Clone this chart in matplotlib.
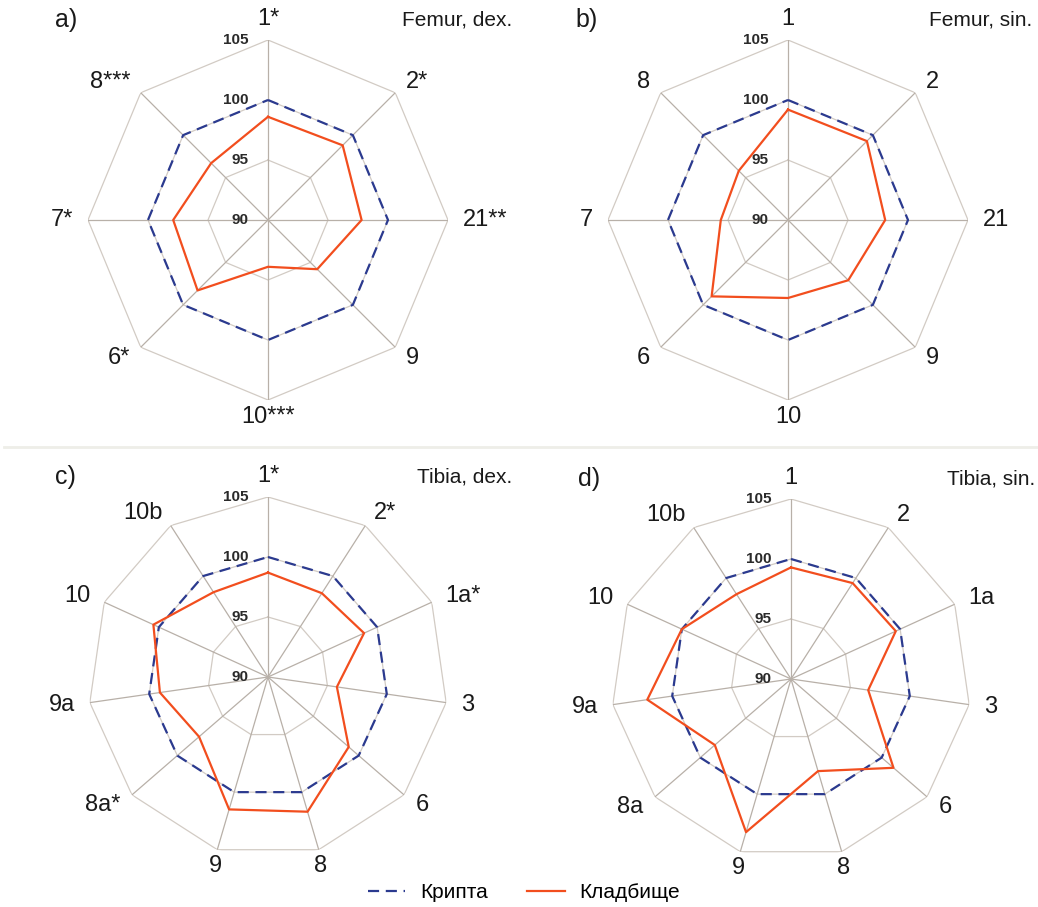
import numpy as np
import matplotlib
matplotlib.use('Agg')
import matplotlib.pyplot as plt
from matplotlib.lines import Line2D

plt.rcParams['font.family'] = ['Liberation Sans', 'DejaVu Sans']

# panel a) Femur, dex.
cats_a = ['1*', '2*', '21**', '9', '10***', '6*', '7*', '8***']
crypt_a = [100, 100, 100, 100, 100, 100, 100, 100]
cem_a = [98.6, 98.8, 97.8, 95.8, 93.9, 98.3, 97.9, 96.7]

# panel b) Femur, sin.
cats_b = ['1', '2', '21', '9', '10', '6', '7', '8']
crypt_b = [100, 100, 100, 100, 100, 100, 100, 100]
cem_b = [99.2, 99.3, 98.1, 97.1, 96.5, 99.0, 95.6, 95.8]

# panel c) Tibia, dex.
cats_c = ['1*', '2*', '1a*', '3', '6', '8', '9', '8a*', '9a', '10', '10b']
crypt_c = [100, 100, 100, 100, 100, 100, 100, 100, 100, 100, 100]
cem_c = [98.7, 98.3, 98.8, 95.8, 98.9, 101.7, 101.5, 97.6, 99.1, 100.5, 98.4]

# panel d) Tibia, sin.
cats_d = ['1', '2', '1a', '3', '6', '8', '9', '8a', '9a', '10', '10b']
crypt_d = [100, 100, 100, 100, 100, 100, 100, 100, 100, 100, 100]
cem_d = [99.3, 99.5, 99.6, 96.5, 101.3, 98.0, 103.3, 98.4, 102.1, 100.0, 98.4]

rings = [95, 100, 105]
ring_labels = ['90', '95', '100', '105']
rmin, rmax = 90, 105

BLUE = '#2b3a8f'
RED = '#f24e1e'
SPOKE = '#b8b0a8'
RING = '#d2cbc4'

W, H = 1038, 907
fig = plt.figure(figsize=(W / 100, H / 100), dpi=100)


def radar(cx, cy, rad, cats, crypt, cem, letter, title):
  ax = fig.add_axes([(cx - rad) / W, 1 - (cy + rad) / H, 2 * rad / W, 2 * rad / H],
                    projection='polar')
  ax.set_theta_zero_location('N')
  ax.set_theta_direction(-1)
  ax.set_ylim(rmin, rmax)
  ax.grid(False)
  ax.set_xticks([])
  ax.set_yticks([])
  ax.spines['polar'].set_visible(False)
  ax.patch.set_visible(False)

  n = len(cats)
  th = np.arange(n) * 2 * np.pi / n
  thc = np.append(th, th[0])

  for v in rings:
    ax.plot(thc, [v] * (n + 1), color=RING, lw=0.9, zorder=1)
  for t in th:
    ax.plot([t, t], [rmin, rmax], color=SPOKE, lw=0.9, zorder=1)

  l1, = ax.plot(thc, crypt + crypt[:1], color=BLUE, lw=1.6,
                linestyle=(0, (5, 3)), zorder=3, label='Крипта')
  l2, = ax.plot(thc, cem + cem[:1], color=RED, lw=1.6, zorder=4, label='Кладбище')

  for v, s in zip([90, 95, 100, 105], ring_labels):
    ax.annotate(s, xy=(0, v), xytext=(-14, 0), textcoords='offset points',
                ha='right', va='center', fontsize=11, fontweight='bold',
                color='#2a2a2a', zorder=5)

  # category labels just outside the outer ring
  for t, c in zip(th, cats):
    s, co = np.sin(t), np.cos(t)
    if abs(s) > 0.3:
      ha, va, rr = ('left' if s > 0 else 'right'), 'center', 106.25
    elif co > 0:
      ha, va, rr = 'center', 'bottom', 105.85
    else:
      ha, va, rr = 'center', 'top', 105.5
    ax.text(t, rr, c, ha=ha, va=va, fontsize=17, color='#1a1a1a')

  fig.text((cx - 213) / W, 1 - (cy - 200) / H, letter, fontsize=18,
           ha='left', va='center', color='#1a1a1a')
  fig.text((cx + 244) / W, 1 - (cy - 200) / H, title, fontsize=15,
           ha='right', va='center', color='#1a1a1a')
  return l1, l2


radar(268, 220, 180, cats_a, crypt_a, cem_a, 'a)', 'Femur, dex.')
radar(788, 220, 180, cats_b, crypt_b, cem_b, 'b)', 'Femur, sin.')
radar(268, 677, 180, cats_c, crypt_c, cem_c, 'c)', 'Tibia, dex.')
h1, h2 = radar(791, 679, 180, cats_d, crypt_d, cem_d, 'd)', 'Tibia, sin.')

fig.add_artist(Line2D([4 / W, 1], [1 - 447 / H, 1 - 447 / H], color='#eeeee8', lw=2))

fig.legend([h1, h2], ['Крипта', 'Кладбище'], loc='center', ncol=2,
           bbox_to_anchor=(524 / W, 1 - 893 / H), frameon=False, fontsize=15,
           handlelength=1.8, handletextpad=0.7, columnspacing=1.9)

fig.savefig('out.png', dpi=100, facecolor='white')
